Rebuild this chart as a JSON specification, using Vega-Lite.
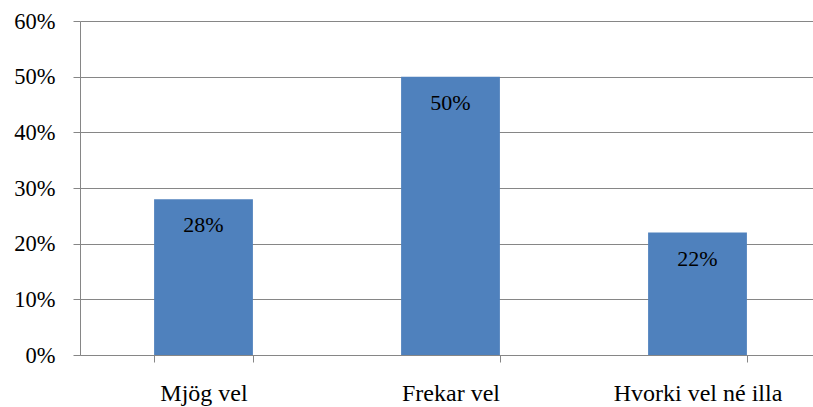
{
  "$schema": "https://vega.github.io/schema/vega-lite/v6.json",
  "width": 733,
  "height": 334,
  "autosize": {"type": "none"},
  "padding": {"left": 80, "top": 21, "right": 0, "bottom": 52},
  "background": "white",
  "config": {"view": {"stroke": null}},
  "data": {"values": [
    {"cat": "Mjög vel", "value": 0.28},
    {"cat": "Frekar vel", "value": 0.50},
    {"cat": "Hvorki vel né illa", "value": 0.22}
  ]},
  "encoding": {
    "x": {"field": "cat", "type": "nominal", "sort": null,
      "scale": {"range": [0, 741], "paddingInner": 0.6, "paddingOuter": 0.3},
      "axis": {"title": null, "labelAngle": 0, "tickBand": "extent", "tickSize": 7,
        "domainColor": "#868686", "tickColor": "#868686", "labelFont": "Liberation Serif",
        "labelFontSize": 24, "labelColor": "#000000", "labelPadding": 19, "grid": false}}
  },
  "layer": [
    {"mark": {"type": "bar", "color": "#4F81BD"},
      "encoding": {"y": {"field": "value", "type": "quantitative",
        "scale": {"domain": [0, 0.6], "nice": false},
        "axis": {"title": null, "format": "~%", "values": [0, 0.1, 0.2, 0.3, 0.4, 0.5, 0.6],
          "grid": true, "gridColor": "#868686", "gridWidth": 1, "domainColor": "#868686",
          "tickColor": "#868686", "tickSize": 7, "labelFont": "Liberation Serif",
          "labelFontSize": 22.5, "labelColor": "#000000", "labelPadding": 18}}}},
    {"mark": {"type": "text", "baseline": "top", "dy": 16, "font": "Liberation Serif", "fontSize": 22, "color": "#000000"},
      "encoding": {"y": {"field": "value", "type": "quantitative"},
        "text": {"field": "value", "type": "quantitative", "format": ".0%"}}}
  ]
}
